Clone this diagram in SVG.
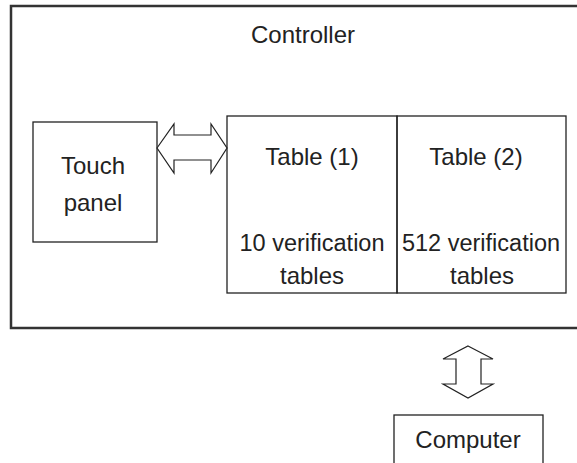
<svg xmlns="http://www.w3.org/2000/svg" width="577" height="463" viewBox="0 0 577 463">
<style>
.box{fill:none;stroke:#222;stroke-width:1.3}
.outer{fill:none;stroke:#333;stroke-width:2.5}
.arr{fill:#fff;stroke:#222;stroke-width:1.2;stroke-linejoin:miter}
text{font-family:"Liberation Sans",Arial,sans-serif;font-size:24px;fill:#222;text-anchor:middle}
</style>
<rect width="577" height="463" fill="#fff"/>
<g id="controller">
<rect class="outer" x="11" y="6" width="570" height="322"/>
<text x="303" y="43">Controller</text>
</g>
<g id="touch-panel">
<rect class="box" x="33" y="122" width="124" height="120"/>
<text x="93" y="174">Touch</text>
<text x="93" y="211">panel</text>
</g>
<g id="table1">
<rect class="box" x="227" y="116" width="170" height="177"/>
<text x="312" y="165">Table (1)</text>
<text x="312" y="251" style="font-size:23.5px">10 verification</text>
<text x="312" y="284">tables</text>
</g>
<g id="table2">
<rect class="box" x="397" y="116" width="169" height="177"/>
<text x="476" y="165">Table (2)</text>
<text x="481" y="251" style="font-size:23.5px">512 verification</text>
<text x="482" y="284">tables</text>
</g>
<g id="computer">
<rect class="box" x="394" y="415" width="149" height="60"/>
<text x="468" y="448">Computer</text>
</g>
<g id="connectors">
<path class="arr" d="M157,148 L174,124 L174,135 L211,135 L211,124 L227,148 L211,173 L211,160 L174,160 L174,173 Z"/>
<path class="arr" d="M468,346 L493,359 L481,359 L481,384 L493,384 L468,398 L443,384 L456,384 L456,359 L443,359 Z"/>
</g>
</svg>
